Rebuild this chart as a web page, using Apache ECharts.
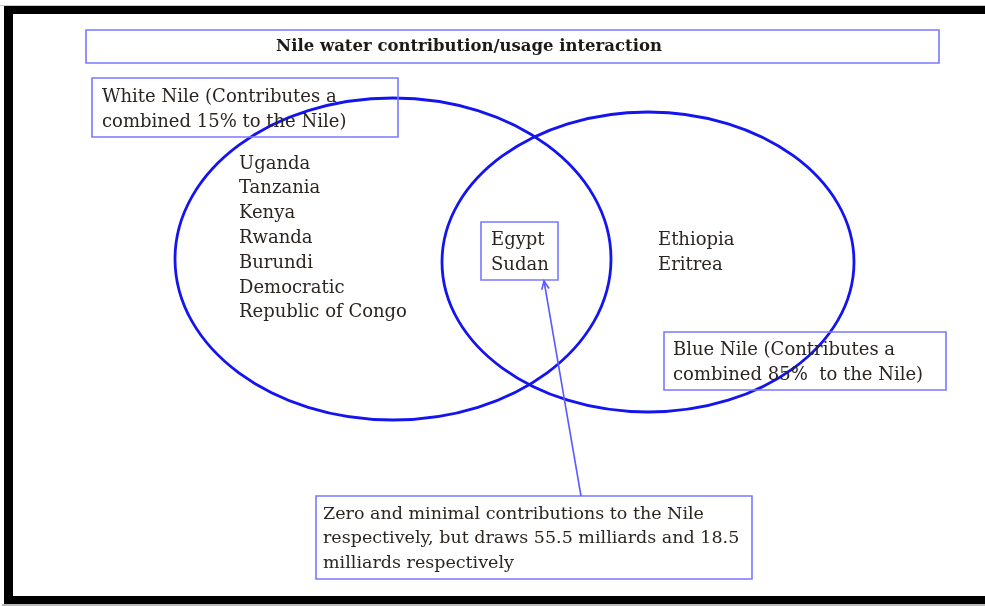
<!DOCTYPE html>
<html><head><meta charset="utf-8">
<script src="https://cdn.jsdelivr.net/npm/echarts@6/dist/echarts.min.js"></script>
<style>html,body{margin:0;padding:0;background:#fff}#c{width:985px;height:606px}</style>
</head><body><div id="c"></div><script>
// ---- data ----
const titleText = 'Nile water contribution/usage interaction';
const setNames = ['White Nile', 'Blue Nile'];
const setLabels = [
  'White Nile (Contributes a\ncombined 15% to the Nile)',
  'Blue Nile (Contributes a\ncombined 85%  to the Nile)'
];
const whiteNileOnly = ['Uganda', 'Tanzania', 'Kenya', 'Rwanda', 'Burundi', 'Democratic', 'Republic of Congo'];
const blueNileOnly = ['Ethiopia', 'Eritrea'];
const bothSets = ['Egypt', 'Sudan'];
const noteText = 'Zero and minimal contributions to the Nile\nrespectively, but draws 55.5 milliards and 18.5\nmilliards respectively';

// ---- layout (diagram units) ----
const ellipseLayout = [[393, 259, 218, 161], [648, 262, 206, 150]];
const boxLayout = {
  title: [86, 30, 853, 33],
  whiteLabel: [92, 78, 306, 59],
  blueLabel: [664, 332, 282, 58],
  both: [481, 222, 77, 58],
  note: [316, 496, 436, 83]
};
const textLayout = {
  whiteLabel: [102, 84.5],
  blueLabel: [673, 337.5],
  whiteOnly: [239, 151.5],
  blueOnly: [658, 227.5],
  both: [491, 227.5],
  note: [323, 502]
};
const arrowLayout = [[581, 496], [544, 281]];

const FONT = '"DejaVu Serif", serif';
const TXT = '#2b2521';
const ELL = '#1414f0';
const BOX = '#7878ff';

const chart = echarts.init(document.getElementById('c'), null, { renderer: 'canvas' });

const ellipseData = setNames.map((n, i) => ({ name: n, value: ellipseLayout[i] }));
const boxData = Object.keys(boxLayout).map(k => ({ name: k, value: boxLayout[k] }));
const textData = [
  { name: 'whiteLabel', value: textLayout.whiteLabel, text: setLabels[0], size: 18, lh: 25 },
  { name: 'blueLabel', value: textLayout.blueLabel, text: setLabels[1], size: 18, lh: 25.5 },
  { name: 'whiteOnly', value: textLayout.whiteOnly, text: whiteNileOnly.join('\n'), size: 18, lh: 24.8 },
  { name: 'blueOnly', value: textLayout.blueOnly, text: blueNileOnly.join('\n'), size: 18, lh: 25 },
  { name: 'both', value: textLayout.both, text: bothSets.join('\n'), size: 18, lh: 25 },
  { name: 'note', value: textLayout.note, text: noteText, size: 17.5, lh: 24.5 }
];

chart.setOption({
  animation: false,
  backgroundColor: '#fff',
  grid: { left: 0, right: 0, top: 0, bottom: 0 },
  xAxis: { type: 'value', min: 0, max: 985, show: false },
  yAxis: { type: 'value', min: 0, max: 606, inverse: true, show: false },
  graphic: [
    { type: 'rect', shape: { x: 4, y: 6, width: 981, height: 8 }, style: { fill: '#000' } },
    { type: 'rect', shape: { x: 4, y: 6, width: 9, height: 598 }, style: { fill: '#000' } },
    { type: 'rect', shape: { x: 4, y: 596, width: 981, height: 8 }, style: { fill: '#000' } },
    { type: 'rect', shape: { x: 2, y: 604, width: 983, height: 2 }, style: { fill: '#bbb' } },
    { type: 'rect', shape: { x: 0, y: 5, width: 985, height: 1 }, style: { fill: '#ccc' } }
  ],
  series: [
    {
      type: 'custom', name: 'sets', data: ellipseData, silent: true,
      renderItem(params, api) {
        const c = api.coord([api.value(0), api.value(1)]);
        const s = api.size([api.value(2), api.value(3)]);
        return { type: 'ellipse', shape: { cx: c[0], cy: c[1], rx: s[0], ry: s[1] },
          style: { fill: 'none', stroke: ELL, lineWidth: 2.8 } };
      }
    },
    {
      type: 'custom', name: 'boxes', data: boxData, silent: true, z: 3,
      renderItem(params, api) {
        const p = api.coord([api.value(0), api.value(1)]);
        const s = api.size([api.value(2), api.value(3)]);
        return { type: 'rect', shape: { x: p[0], y: p[1], width: s[0], height: s[1] },
          style: { fill: params.dataIndex === 0 ? '#fff' : 'none', stroke: BOX, lineWidth: 1.6 } };
      }
    },
    {
      type: 'custom', name: 'arrow', data: [{ value: [arrowLayout[0][0], arrowLayout[0][1], arrowLayout[1][0], arrowLayout[1][1]] }],
      silent: true, z: 3,
      renderItem(params, api) {
        const a = api.coord([api.value(0), api.value(1)]);
        const b = api.coord([api.value(2), api.value(3)]);
        const ang = Math.atan2(a[1] - b[1], a[0] - b[0]);
        const L = 9, w = 0.42;
        const h1 = [b[0] + L * Math.cos(ang + w), b[1] + L * Math.sin(ang + w)];
        const h2 = [b[0] + L * Math.cos(ang - w), b[1] + L * Math.sin(ang - w)];
        return { type: 'group', children: [
          { type: 'line', shape: { x1: a[0], y1: a[1], x2: b[0], y2: b[1] }, style: { stroke: '#5a5aff', lineWidth: 1.6 } },
          { type: 'polyline', shape: { points: [h1, b, h2] }, style: { fill: 'none', stroke: '#5a5aff', lineWidth: 1.6 } }
        ] };
      }
    },
    {
      type: 'custom', name: 'texts', data: textData, silent: true, z: 4,
      renderItem(params, api) {
        const d = textData[params.dataIndex];
        const p = api.coord([api.value(0), api.value(1)]);
        return { type: 'text', x: p[0], y: p[1],
          style: { text: d.text, fill: TXT, font: d.size + 'px ' + FONT, lineHeight: d.lh,
            verticalAlign: 'top', align: 'left' } };
      }
    },
    {
      type: 'custom', name: 'title', data: [{ value: [469, 47] }], silent: true, z: 4,
      renderItem(params, api) {
        const p = api.coord([api.value(0), api.value(1)]);
        return { type: 'text', x: p[0], y: p[1],
          style: { text: titleText, fill: '#1e1a18', font: 'bold 16.5px ' + FONT,
            verticalAlign: 'middle', align: 'center' } };
      }
    }
  ]
});
</script></body></html>
